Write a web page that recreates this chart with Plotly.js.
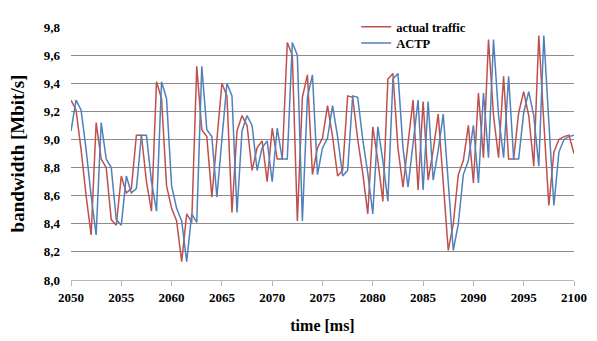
<!DOCTYPE html>
<html>
<head>
<meta charset="utf-8">
<script src="https://cdn.plot.ly/plotly-3.0.1.min.js"></script>
<style>html,body{margin:0;padding:0;background:#fff;}#chart{width:597px;height:341px;}</style>
</head>
<body>
<div id="chart"></div>
<script>
// time axis, sample every 0.5 ms
const timeMs = [];
for (let i = 0; i <= 100; i++) timeMs.push(2050 + i * 0.5);

const actualTraffic = [
  9.28, 9.21, 8.93, 8.60, 8.32, 9.12, 8.86, 8.80, 8.43, 8.39,
  8.74, 8.62, 8.65, 9.03, 9.03, 8.70, 8.49, 9.41, 9.29, 8.67,
  8.51, 8.42, 8.13, 8.47, 8.41, 9.52, 9.07, 9.02, 8.59, 9.00,
  9.40, 9.31, 8.48, 9.06, 9.17, 9.10, 8.78, 8.94, 8.99, 8.70,
  9.08, 8.86, 8.86, 9.69, 9.60, 8.42, 9.30, 9.46, 8.75, 8.94,
  9.01, 9.24, 9.02, 8.74, 8.78, 9.31, 9.30, 9.00, 8.76, 8.47,
  9.09, 8.85, 8.56, 9.43, 9.47, 8.94, 8.66, 8.97, 9.28, 8.64,
  9.27, 8.71, 8.92, 9.18, 8.70, 8.21, 8.40, 8.75, 8.85, 9.10,
  8.69, 9.33, 8.87, 9.71, 9.17, 8.87, 9.45, 8.86, 8.86, 9.19,
  9.34, 9.17, 8.81, 9.74, 9.12, 8.53, 8.91, 9.00, 9.02, 9.03,
  8.90
];

const actp = [
  9.06, 9.28, 9.21, 8.93, 8.60, 8.32, 9.12, 8.86, 8.80, 8.43,
  8.39, 8.74, 8.62, 8.65, 9.03, 9.03, 8.70, 8.49, 9.41, 9.29,
  8.67, 8.51, 8.42, 8.13, 8.47, 8.41, 9.52, 9.07, 9.02, 8.59,
  9.00, 9.40, 9.31, 8.48, 9.06, 9.17, 9.10, 8.78, 8.94, 8.99,
  8.70, 9.08, 8.86, 8.86, 9.69, 9.60, 8.42, 9.30, 9.46, 8.75,
  8.94, 9.01, 9.24, 9.02, 8.74, 8.78, 9.31, 9.30, 9.00, 8.76,
  8.47, 9.09, 8.85, 8.56, 9.43, 9.47, 8.94, 8.66, 8.97, 9.28,
  8.64, 9.27, 8.71, 8.92, 9.18, 8.70, 8.21, 8.40, 8.75, 8.85,
  9.10, 8.69, 9.33, 8.87, 9.71, 9.17, 8.87, 9.45, 8.86, 8.86,
  9.19, 9.34, 9.17, 8.81, 9.74, 9.12, 8.53, 8.91, 9.00, 9.02,
  9.03
];

const xTicks = [2050, 2055, 2060, 2065, 2070, 2075, 2080, 2085, 2090, 2095, 2100];
const yTicks = [8.0, 8.2, 8.4, 8.6, 8.8, 9.0, 9.2, 9.4, 9.6, 9.8];

const serif = 'Liberation Serif, Times New Roman, serif';
const legFont = {family: serif, size: 12.5, color: '#000', weight: 'bold'};

const traces = [
  {x: timeMs, y: actualTraffic, name: 'actual traffic', type: 'scatter', mode: 'lines',
   line: {color: '#C0504D', width: 1.5}, legend: 'legend'},
  {x: timeMs, y: actp, name: 'ACTP', type: 'scatter', mode: 'lines',
   line: {color: '#4F81BD', width: 1.5}, legend: 'legend2'}
];

const layout = {
  width: 597, height: 341,
  margin: {l: 71, r: 23, t: 17, b: 61},
  paper_bgcolor: '#fff', plot_bgcolor: '#fff',
  separators: ',.',
  font: {family: serif, color: '#000', size: 13},
  showlegend: true,
  legend: {x: 0.567, y: 1.0, xanchor: 'left', yanchor: 'middle',
           bgcolor: 'rgba(0,0,0,0)', font: legFont, itemwidth: 30},
  legend2: {x: 0.567, y: 0.935, xanchor: 'left', yanchor: 'middle',
           bgcolor: 'rgba(0,0,0,0)', font: legFont, itemwidth: 30},
  xaxis: {
    range: [2050, 2100], tickvals: xTicks, ticktext: xTicks.map(String),
    showgrid: false, zeroline: false,
    showline: true, linecolor: '#b8b8b8', linewidth: 1,
    ticks: 'outside', ticklen: 5, tickcolor: '#b8b8b8',
    tickfont: {family: serif, size: 13, weight: 'bold'},
    title: {text: 'time [ms]', font: {family: serif, size: 16, weight: 'bold'}, standoff: 16}
  },
  yaxis: {
    range: [8.0, 9.8], tickvals: yTicks, tickformat: '.1f',
    showgrid: true, gridcolor: '#8c8c8c', gridwidth: 1,
    zeroline: false, showline: false, ticks: '', ticklabelstandoff: 10,
    tickfont: {family: serif, size: 13, weight: 'bold'},
    title: {text: 'bandwidth [Mbit/s]', font: {family: serif, size: 19, weight: 'bold'}, standoff: 14}
  }
};

Plotly.newPlot('chart', traces, layout, {displayModeBar: false, staticPlot: true});
</script>
</body>
</html>
